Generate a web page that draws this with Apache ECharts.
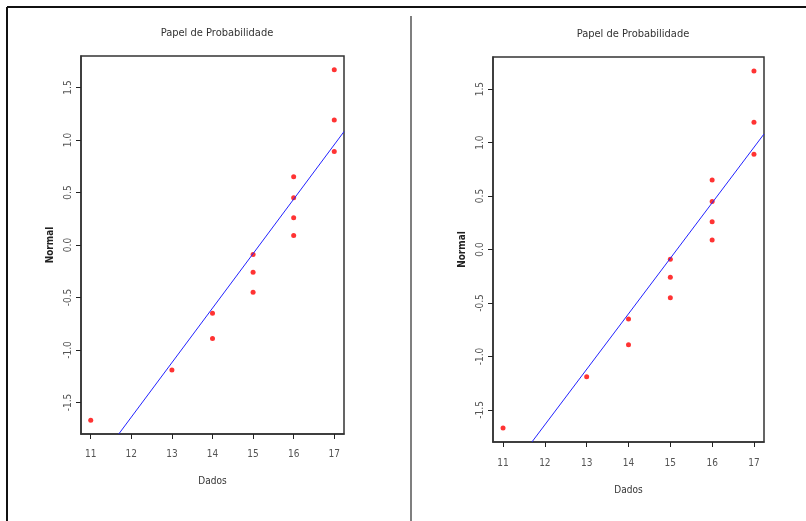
<!DOCTYPE html>
<html>
<head>
<meta charset="utf-8">
<script src="https://cdn.jsdelivr.net/npm/echarts@6/dist/echarts.min.js"></script>
<style>
  html, body {margin: 0; padding: 0; background: #fff;}
  #chart {width: 806px; height: 521px;}
</style>
</head>
<body>
<div id="chart"></div>
<script>
const dados = [11, 13, 14, 14, 15, 15, 15, 16, 16, 16, 16, 17, 17, 17];
const normal = [-1.67, -1.19, -0.89, -0.65, -0.45, -0.26, -0.09, 0.09, 0.26, 0.45, 0.65, 0.89, 1.19, 1.67];
// reta de referência (extremos dentro da área do gráfico)
const retaX = [11.69, 17.24];
const retaY = [-1.8, 1.08];
const xTicks = [11, 12, 13, 14, 15, 16, 17];
const yTicks = [-1.5, -1.0, -0.5, 0.0, 0.5, 1.0, 1.5];
const xRange = [10.76, 17.24];
const yRange = [-1.8, 1.8];

const font = '"Liberation Sans Narrow", "DejaVu Sans Condensed", "Liberation Sans", sans-serif';
const titulo = 'Papel de Probabilidade';

const pontos = dados.map((d, i) => [d, normal[i]]);
const reta = retaX.map((x, i) => [x, retaY[i]]);

const grids = [
  {left: 81, top: 56, width: 263, height: 378},
  {left: 493, top: 57, width: 271, height: 385}
];

const eixo = {show: true, onZero: false, lineStyle: {color: '#333', width: 1.5}};

const xAxis = (gridIndex, labelMargin, nameGap) => ({
  type: 'value',
  gridIndex,
  min: xRange[0],
  max: xRange[1],
  name: 'Dados',
  nameLocation: 'middle',
  nameGap,
  nameTextStyle: {fontFamily: font, fontSize: 10, color: '#333'},
  axisLine: eixo,
  splitLine: {show: false},
  axisTick: {show: true, length: 5, customValues: xTicks, lineStyle: {color: '#222'}},
  axisLabel: {
    customValues: xTicks,
    margin: labelMargin,
    fontFamily: font,
    fontSize: 10,
    color: '#555'
  }
});

const yAxis = (gridIndex) => ({
  type: 'value',
  gridIndex,
  min: yRange[0],
  max: yRange[1],
  name: 'Normal',
  nameLocation: 'middle',
  nameGap: 26,
  nameTextStyle: {fontFamily: font, fontSize: 10, fontWeight: 'bold', color: '#222'},
  axisLine: eixo,
  splitLine: {show: false},
  axisTick: {show: true, length: 5, customValues: yTicks, lineStyle: {color: '#222'}},
  axisLabel: {
    customValues: yTicks,
    rotate: 90,
    align: 'center',
    verticalAlign: 'bottom',
    margin: 8,
    fontFamily: font,
    fontSize: 10,
    color: '#555',
    formatter: v => v.toFixed(1)
  }
});

const chart = echarts.init(document.getElementById('chart'), null, {renderer: 'canvas'});
chart.setOption({
  backgroundColor: '#fff',
  animation: false,
  title: [
    {text: titulo, left: 212, top: 23, textAlign: 'center',
      textStyle: {fontFamily: font, fontSize: 11, fontWeight: 'normal', color: '#333'}},
    {text: titulo, left: 628, top: 24, textAlign: 'center',
      textStyle: {fontFamily: font, fontSize: 11, fontWeight: 'normal', color: '#333'}}
  ],
  grid: grids.map(g => Object.assign({show: true, borderColor: '#333', borderWidth: 1.5, backgroundColor: 'transparent'}, g)),
  xAxis: [xAxis(0, 15, 42), xAxis(1, 16, 43)],
  yAxis: [yAxis(0), yAxis(1)],
  series: [0, 1].flatMap(i => [
    {
      type: 'line',
      xAxisIndex: i,
      yAxisIndex: i,
      data: reta,
      symbol: 'none',
      lineStyle: {color: '#2222ff', width: 1},
      silent: true
    },
    {
      type: 'scatter',
      xAxisIndex: i,
      yAxisIndex: i,
      data: pontos,
      symbolSize: 5,
      itemStyle: {color: '#ff0000'}
    }
  ]),
  graphic: [
    {type: 'line', shape: {x1: 7, y1: 7, x2: 806, y2: 7}, style: {stroke: '#111', lineWidth: 2}},
    {type: 'line', shape: {x1: 7, y1: 7, x2: 7, y2: 521}, style: {stroke: '#111', lineWidth: 2}},
    {type: 'line', shape: {x1: 411, y1: 16, x2: 411, y2: 521}, style: {stroke: '#555', lineWidth: 1.5}}
  ]
});
</script>
</body>
</html>
